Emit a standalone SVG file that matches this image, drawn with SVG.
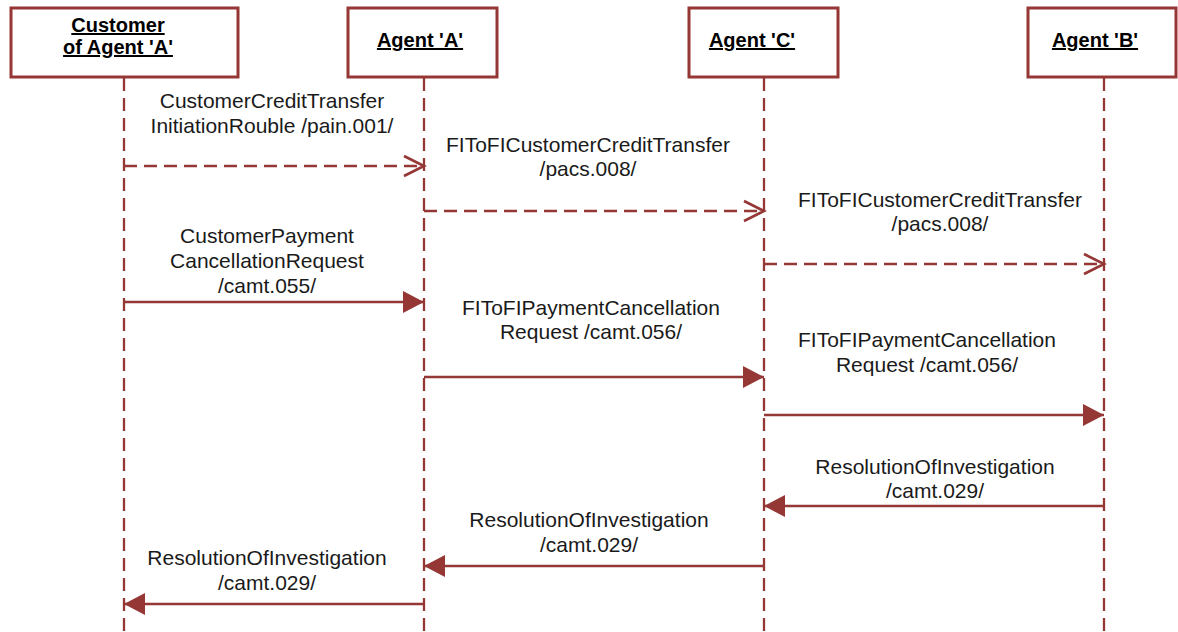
<svg xmlns="http://www.w3.org/2000/svg" width="1178" height="632" viewBox="0 0 1178 632">
<style>
.box{fill:#fff;stroke:#953735;stroke-width:3}
.title{font-family:"Liberation Sans",Arial,sans-serif;font-size:20px;font-weight:bold;fill:#000;text-decoration:underline;text-anchor:middle}
.life{stroke:#953735;stroke-width:2.3;stroke-dasharray:13 7;fill:none}
.msg{stroke:#953735;stroke-width:2.6;fill:none}
.dash{stroke-dasharray:13 7}
.lbl{font-family:"Liberation Sans",Arial,sans-serif;font-size:21px;fill:#1a1a1a;text-anchor:middle}
</style>
<defs>
<marker id="open" markerUnits="userSpaceOnUse" markerWidth="26" markerHeight="26" refX="21" refY="11" orient="auto" overflow="visible">
<path d="M1,1 L21,11 L1,21" fill="none" stroke="#953735" stroke-width="2.6"/>
</marker>
<marker id="fill" markerUnits="userSpaceOnUse" markerWidth="26" markerHeight="26" refX="21" refY="11" orient="auto" overflow="visible">
<path d="M0,0 L21,11 L0,22 Z" fill="#953735" stroke="none"/>
</marker>
</defs>
<g id="lifelines">
<line class="life" x1="124" y1="78" x2="124" y2="632"/>
<line class="life" x1="424" y1="78" x2="424" y2="632"/>
<line class="life" x1="764" y1="78" x2="764" y2="632"/>
<line class="life" x1="1104" y1="78" x2="1104" y2="632"/>
</g>
<g id="node-customer">
<rect class="box" x="11" y="8" width="227" height="69"/>
<text class="title" x="118" y="32">Customer</text>
<text class="title" x="118" y="54">of Agent 'A'</text>
</g>
<g id="node-agentA">
<rect class="box" x="348" y="8" width="149" height="69"/>
<text class="title" x="420" y="47">Agent 'A'</text>
</g>
<g id="node-agentC">
<rect class="box" x="689" y="8" width="149" height="69"/>
<text class="title" x="752" y="47">Agent 'C'</text>
</g>
<g id="node-agentB">
<rect class="box" x="1028" y="8" width="148" height="69"/>
<text class="title" x="1095" y="47">Agent 'B'</text>
</g>
<g id="connectors">
<line class="msg dash" x1="124" y1="166" x2="424" y2="166" marker-end="url(#open)"/>
<line class="msg dash" x1="424" y1="211" x2="764" y2="211" marker-end="url(#open)"/>
<line class="msg dash" x1="764" y1="264" x2="1104" y2="264" marker-end="url(#open)"/>
<line class="msg" x1="124" y1="302" x2="424" y2="302" marker-end="url(#fill)"/>
<line class="msg" x1="424" y1="377" x2="764" y2="377" marker-end="url(#fill)"/>
<line class="msg" x1="764" y1="415" x2="1104" y2="415" marker-end="url(#fill)"/>
<line class="msg" x1="1104" y1="506" x2="764" y2="506" marker-end="url(#fill)"/>
<line class="msg" x1="764" y1="566" x2="424" y2="566" marker-end="url(#fill)"/>
<line class="msg" x1="424" y1="604" x2="124" y2="604" marker-end="url(#fill)"/>
</g>
<g id="labels">
<text class="lbl" x="272" y="108">CustomerCreditTransfer</text>
<text class="lbl" x="272" y="133">InitiationRouble /pain.001/</text>
<text class="lbl" x="588" y="152">FIToFICustomerCreditTransfer</text>
<text class="lbl" x="588" y="176">/pacs.008/</text>
<text class="lbl" x="940" y="207">FIToFICustomerCreditTransfer</text>
<text class="lbl" x="940" y="231">/pacs.008/</text>
<text class="lbl" x="267" y="243">CustomerPayment</text>
<text class="lbl" x="267" y="268">CancellationRequest</text>
<text class="lbl" x="267" y="293">/camt.055/</text>
<text class="lbl" x="591" y="315">FIToFIPaymentCancellation</text>
<text class="lbl" x="591" y="339">Request /camt.056/</text>
<text class="lbl" x="927" y="347">FIToFIPaymentCancellation</text>
<text class="lbl" x="927" y="372">Request /camt.056/</text>
<text class="lbl" x="935" y="474">ResolutionOfInvestigation</text>
<text class="lbl" x="935" y="498">/camt.029/</text>
<text class="lbl" x="589" y="527">ResolutionOfInvestigation</text>
<text class="lbl" x="589" y="552">/camt.029/</text>
<text class="lbl" x="267" y="565">ResolutionOfInvestigation</text>
<text class="lbl" x="267" y="590">/camt.029/</text>
</g>
</svg>
